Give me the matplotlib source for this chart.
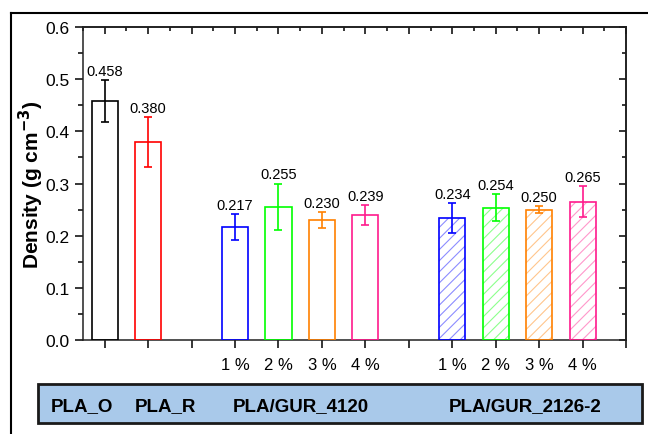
import matplotlib
matplotlib.use('Agg')
import matplotlib.pyplot as plt
from matplotlib.patches import Rectangle
from matplotlib.lines import Line2D
from matplotlib.ticker import MultipleLocator, NullLocator
import numpy as np

plt.rcParams['font.family'] = ['Liberation Sans', 'DejaVu Sans']
plt.rcParams['hatch.linewidth'] = 0.8

# density of each sample with its standard deviation
samples = ['PLA_O', 'PLA_R',
           '4120 1%', '4120 2%', '4120 3%', '4120 4%',
           '2126-2 1%', '2126-2 2%', '2126-2 3%', '2126-2 4%']
density = [0.458, 0.380, 0.217, 0.255, 0.230, 0.239, 0.234, 0.254, 0.250, 0.265]
density_err = [0.041, 0.048, 0.025, 0.045, 0.015, 0.019, 0.028, 0.025, 0.007, 0.030]
colors = ['#000000', '#ff0000', '#0000ff', '#00ff00', '#ff8000', '#ff1a8c',
          '#0000ff', '#00ff00', '#ff8000', '#ff1a8c']
hatched = [False] * 6 + [True] * 4
xpos = [1, 2, 4, 5, 6, 7, 9, 10, 11, 12]

tick_pos = [4, 5, 6, 7, 9, 10, 11, 12]
tick_txt = ['1 %', '2 %', '3 %', '4 %', '1 %', '2 %', '3 %', '4 %']

groups = ['PLA_O', 'PLA_R', 'PLA/GUR_4120', 'PLA/GUR_2126-2']
group_x = [0.1265, 0.2546, 0.4645, 0.810]

fig = plt.figure(figsize=(6.48, 4.35), dpi=100)
ax = fig.add_axes([0.1281, 0.2161, 0.966 - 0.1281, 0.9356 - 0.2161])

for x, v, e, c, h in zip(xpos, density, density_err, colors, hatched):
    if h:
        ax.bar(x, v, width=0.6, facecolor='none', edgecolor=matplotlib.colors.to_rgba(c, 0.45),
               hatch='///', linewidth=0, zorder=2)
    ax.bar(x, v, width=0.6, facecolor='none', edgecolor=c, linewidth=1.2, zorder=3)
    ax.errorbar(x, v, yerr=e, fmt='none', ecolor=c, elinewidth=1.2,
                capsize=3, capthick=1.2, zorder=4)
    ax.text(x, v + e + 0.004, f'{v:.3f}', ha='center', va='bottom', fontsize=10.5)

ax.set_xlim(0.5, 13)
ax.set_ylim(0, 0.6)
ax.set_xticks(range(1, 14))
ax.set_xticklabels([tick_txt[tick_pos.index(i)] if i in tick_pos else '' for i in range(1, 14)],
                   fontsize=12)
ax.yaxis.set_major_locator(MultipleLocator(0.1))
ax.yaxis.set_minor_locator(MultipleLocator(0.05))
ax.xaxis.set_minor_locator(NullLocator())
ax.yaxis.set_major_formatter(matplotlib.ticker.FormatStrFormatter('%.1f'))
ax.tick_params(axis='both', direction='out', width=1.1, length=6, labelsize=12.5)
ax.tick_params(axis='x', pad=6, labelsize=12)
ax.tick_params(axis='y', which='minor', direction='out', width=1.1, length=3.5)
for s in ax.spines.values():
    s.set_linewidth(1.1)
    s.set_color('#222222')

ax.set_ylabel('Density (g cm$^{\\mathbf{-3}}$)', fontsize=15, fontweight='bold', labelpad=0)

# mirrored ticks on top and right, pointing inward
top = ax.secondary_xaxis('top')
top.set_xticks(range(1, 14))
top.xaxis.set_minor_locator(MultipleLocator(0.5))
top.tick_params(direction='in', length=5, width=1.1, labeltop=False)
top.tick_params(which='minor', direction='in', length=3, width=1.1)
right = ax.secondary_yaxis('right')
right.yaxis.set_major_locator(MultipleLocator(0.1))
right.yaxis.set_minor_locator(MultipleLocator(0.05))
right.tick_params(direction='in', length=5, width=1.1, labelright=False)
right.tick_params(which='minor', direction='in', length=3, width=1.1)
top.spines['top'].set_linewidth(1.1)
right.spines['right'].set_linewidth(1.1)

# group label strip
fig.add_artist(Rectangle((0.0582, 0.0253), 0.932, 0.0897, transform=fig.transFigure,
                         facecolor='#a9c9ea', edgecolor='#1a1a1a', linewidth=2))
for gx, g in zip(group_x, groups):
    fig.text(gx, 0.0644, g, ha='center', va='center', fontsize=13.5, fontweight='bold')

# outer frame
fig.add_artist(Line2D([11 / 648, 1], [1 - 13.5 / 435, 1 - 13.5 / 435], transform=fig.transFigure,
                      color='black', linewidth=1.5))
fig.add_artist(Line2D([11 / 648, 11 / 648], [0, 1 - 13.5 / 435], transform=fig.transFigure,
                      color='black', linewidth=1.5))

fig.savefig('out.png', dpi=100)
